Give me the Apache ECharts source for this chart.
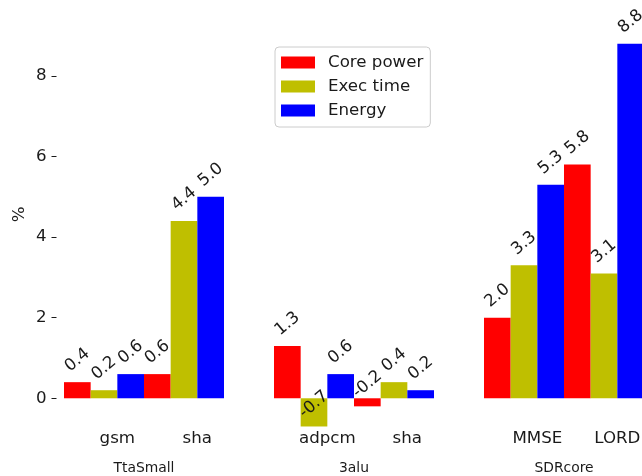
<!DOCTYPE html>
<html>
<head>
<meta charset="utf-8">
<script src="https://cdn.jsdelivr.net/npm/echarts@6/dist/echarts.min.js"></script>
<style>html,body{margin:0;padding:0;background:#fff}#c{width:642px;height:476px}</style>
</head>
<body>
<div id="c"></div>
<script>
var groupNames = ['TtaSmall', '3alu', 'SDRcore'];
var benchmarks = [['gsm', 'sha'], ['adpcm', 'sha'], ['MMSE', 'LORD']];
var seriesNames = ['Core power', 'Exec time', 'Energy'];
var corePower = [0.4, 0.6, 1.3, -0.2, 2.0, 5.8];
var execTime = [0.2, 4.4, -0.7, 0.4, 3.3, 3.1];
var energy = [0.6, 5.0, 0.6, 0.2, 5.3, 8.8];
var yTicks = [0, 2, 4, 6, 8];
var colors = ['#ff0000', '#bfbf00', '#0000ff'];

var FONT = 'DejaVu Sans';
var TXT = '#1a1a1a';
var allValues = [corePower, execTime, energy];
var yMin = -0.75, yMax = 9.875;
var grids = [], xAxes = [], yAxes = [], series = [];
var lefts = [64, 274, 484];

groupNames.forEach(function (g, gi) {
  grids.push({ left: lefts[gi], width: 160, top: 0.4, height: 428.1, outerBoundsMode: 'none', containLabel: false });
  xAxes.push({
    type: 'category', gridIndex: gi, data: benchmarks[gi],
    axisLine: { show: false }, axisTick: { show: false }, splitLine: { show: false },
    axisLabel: { fontFamily: FONT, fontSize: 16.67, color: TXT, margin: 2, padding: [0, 0, 0, 26.67] },
    name: g, nameLocation: 'middle', nameGap: 33,
    nameTextStyle: { fontFamily: FONT, fontSize: 13.89, color: TXT }
  });
  var ya = {
    type: 'value', gridIndex: gi, min: yMin, max: yMax,
    splitLine: { show: false }, axisLine: { show: false }
  };
  if (gi === 0) {
    ya.offset = 7.5;
    ya.axisTick = { show: true, length: 5, lineStyle: { color: TXT, width: 1 }, customValues: yTicks };
    ya.axisLabel = { fontFamily: FONT, fontSize: 16.67, color: TXT, margin: 10, customValues: yTicks };
    ya.name = '%';
    ya.nameLocation = 'middle';
    ya.nameGap = 28;
    ya.nameTextStyle = { fontFamily: FONT, fontSize: 16.67, color: TXT };
  } else {
    ya.show = false;
  }
  yAxes.push(ya);

  var labelData = [];
  seriesNames.forEach(function (sn, si) {
    var vals = allValues[si].slice(gi * 2, gi * 2 + 2);
    series.push({
      name: sn, type: 'bar', xAxisIndex: gi, yAxisIndex: gi,
      data: vals, barGap: '0%', barCategoryGap: '0%',
      itemStyle: { color: colors[si] }, emphasis: { disabled: true }
    });
    vals.forEach(function (v, ci) { labelData.push([ci, v, si]); });
  });
  series.push({
    type: 'custom', xAxisIndex: gi, yAxisIndex: gi, data: labelData, clip: false,
    silent: true, z: 10,
    renderItem: function (params, api) {
      var p = api.coord([api.value(0), api.value(1)]);
      var w = api.size([1, 0])[0] / 3;
      var s = api.value(2);
      return {
        type: 'text',
        x: p[0] + (s - 1) * w,
        y: p[1] - 22,
        rotation: 40 * Math.PI / 180,
        style: {
          text: api.value(1).toFixed(1),
          fontFamily: FONT, fontSize: 16.67, fill: TXT,
          align: 'center', verticalAlign: 'middle'
        }
      };
    }
  });
});

var chart = echarts.init(document.getElementById('c'), null, { renderer: 'canvas' });
chart.setOption({
  animation: false,
  backgroundColor: '#ffffff',
  textStyle: { fontFamily: FONT },
  grid: grids, xAxis: xAxes, yAxis: yAxes,
  legend: {
    data: seriesNames, orient: 'vertical', left: 275, top: 47,
    padding: [7, 7, 8, 6], itemWidth: 34, itemHeight: 12, itemGap: 7,
    icon: 'rect', backgroundColor: 'rgba(255,255,255,0.8)',
    borderColor: '#cccccc', borderWidth: 1, borderRadius: 4,
    textStyle: { fontFamily: FONT, fontSize: 16.67, color: TXT, padding: [0, 0, 0, 8] },
    selectedMode: false
  },
  series: series
});
</script>
</body>
</html>
